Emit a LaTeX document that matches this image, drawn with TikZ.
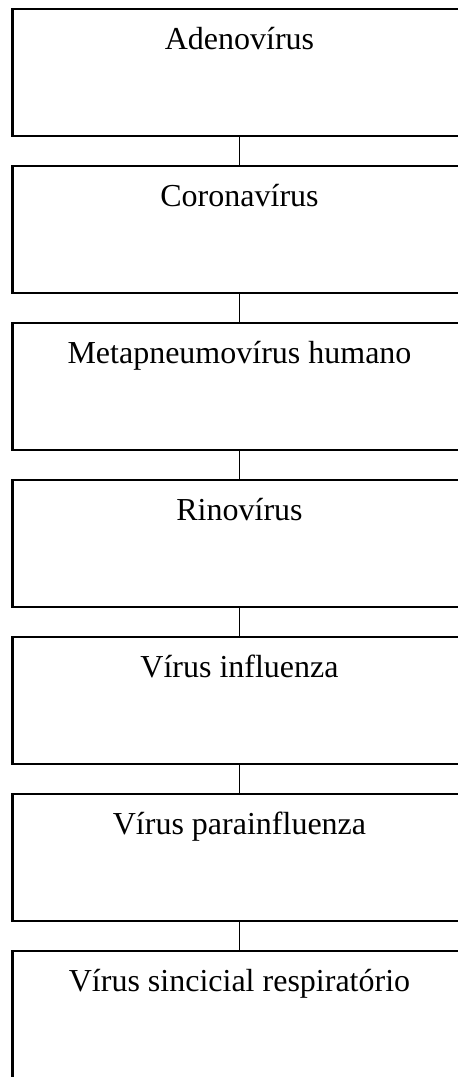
\documentclass[tikz,border=0pt]{standalone}
\usepackage{fontspec}
\setmainfont{Liberation Serif}
\begin{document}
\begin{tikzpicture}[x=1pt,y=1pt,
  virbox/.style={draw=black, line width=2.5pt, rectangle, minimum width=454pt, minimum height=127pt, inner sep=0pt},
  lbl/.style={anchor=base, yshift=-42pt, inner sep=0pt, font=\fontsize{32}{38}\selectfont},
  conn/.style={draw=black, line width=1pt}]
\useasboundingbox (0,0) rectangle (458,-1077);
\clip (0,0) rectangle (458,-1077);
\node[virbox, label={[lbl]north:Adenovírus}] (b1) at (239.5,-72.5) {};
\node[virbox, label={[lbl]north:Coronavírus}] (b2) at (239.5,-229.5) {};
\node[virbox, label={[lbl]north:Metapneumovírus humano}] (b3) at (239.5,-386.5) {};
\node[virbox, label={[lbl]north:Rinovírus}] (b4) at (239.5,-543.5) {};
\node[virbox, label={[lbl]north:Vírus influenza}] (b5) at (239.5,-700.5) {};
\node[virbox, label={[lbl]north:Vírus parainfluenza}] (b6) at (239.5,-857.5) {};
\node[virbox, label={[lbl]north:Vírus sincicial respiratório}] (b7) at (239.5,-1014.5) {};
\draw[conn] (b1.south) -- (b2.north);
\draw[conn] (b2.south) -- (b3.north);
\draw[conn] (b3.south) -- (b4.north);
\draw[conn] (b4.south) -- (b5.north);
\draw[conn] (b5.south) -- (b6.north);
\draw[conn] (b6.south) -- (b7.north);
\end{tikzpicture}
\end{document}
